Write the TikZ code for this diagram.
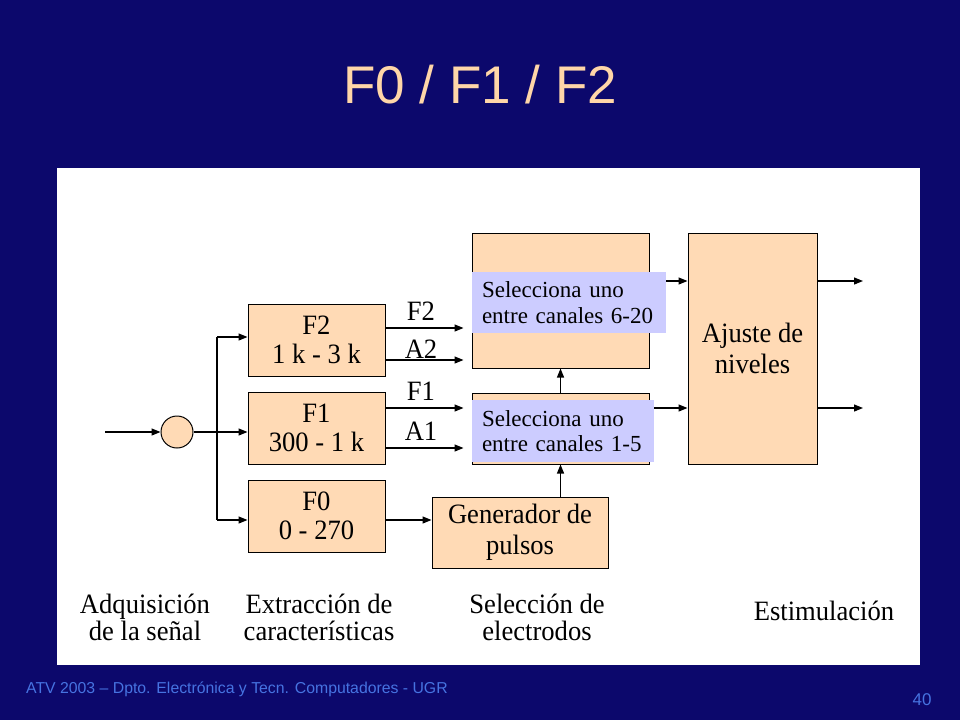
\documentclass[tikz,border=0pt]{standalone}
\usepackage{fontspec}
\setmainfont[FakeStretch=0.95]{Liberation Serif}
\newfontfamily\plainserif{Liberation Serif}
\newfontfamily\arialf{Liberation Sans}
\usetikzlibrary{arrows.meta,calc}
\definecolor{navy}{RGB}{12,8,108}
\definecolor{peach}{RGB}{255,218,181}
\definecolor{titlepeach}{RGB}{255,214,168}
\definecolor{lblue}{RGB}{204,204,255}
\definecolor{footblue}{RGB}{70,115,225}
\tikzset{
  blk/.style={draw=black, line width=1pt, fill=peach, inner sep=0pt, align=center,
    font=\fontsize{28}{29}\selectfont},
  selbox/.style={fill=lblue, inner xsep=10pt, inner ysep=0pt, align=left,
    font=\plainserif\fontsize{23}{25.5}\selectfont},
  arr/.style={line width=1.2pt, -{Triangle[length=9pt,width=7pt]}},
  lbl/.style={inner sep=0pt, align=center, font=\fontsize{28}{27}\selectfont},
}
\begin{document}
\begin{tikzpicture}[x=1pt,y=-1pt]
\useasboundingbox (0,0) rectangle (960,720);
\fill[navy] (0,0) rectangle (960,720);
\fill[white] (57,168) rectangle (920,665);

\node[anchor=base, inner sep=0pt, text=titlepeach, font=\arialf\fontsize{53}{60}\selectfont] (title) at (480,103) {F0 / F1 / F2};

% acquisition
\node[circle, draw=black, line width=1pt, fill=peach, minimum size=32pt, inner sep=0pt] (circ) at (177,432) {};
\coordinate (in) at (105,432);
\draw[arr] (in) -- (circ);

% feature extraction boxes
\node[blk, minimum width=137pt, minimum height=72pt] (f2) at (316.5,340) {F2\\1 k - 3 k};
\node[blk, minimum width=137pt, minimum height=72pt] (f1) at (316.5,428) {F1\\300 - 1 k};
\node[blk, minimum width=137pt, minimum height=72pt] (f0) at (316.5,516) {F0\\0 - 270};

\coordinate (j2) at (217,337);
\coordinate (j0) at (217,520);
\draw[line width=1.2pt] (j2) -- (j0);
\draw[arr] (circ) -- (circ -| f1.west);
\draw[arr] (j2) -- (j2 -| f2.west);
\draw[arr] (j0) -- (j0 -| f0.west);

% electrode selection
\node[blk, minimum width=177pt, minimum height=135pt] (sel2) at (560.5,300.5) {};
\node[blk, minimum width=177pt, minimum height=71pt] (sel1) at (560.5,428.5) {};
\node[selbox, text width=174pt, minimum height=61pt] (b1) at (569,302.5) {Selecciona uno\\entre canales 6-20};
\node[selbox, text width=162pt, minimum height=62pt] (b2) at (563,431) {Selecciona uno\\entre canales 1-5};
\node[blk, minimum width=176pt, minimum height=71pt, font=\fontsize{28}{31}\selectfont] (gen) at (520,532.5) {Generador de\\pulsos};

% stimulation
\node[blk, minimum width=129pt, minimum height=231pt, font=\fontsize{28}{31}\selectfont] (aj) at (752.5,348.5) {Ajuste de\\niveles};

% extraction -> selection
\draw[arr, shorten >=8pt] ([yshift=12pt]f2.east) -- ([yshift=12pt]f2.east -| sel2.west);
\draw[arr, shorten >=8pt] ([yshift=-20pt]f2.east) -- ([yshift=-20pt]f2.east -| sel2.west);
\draw[arr, shorten >=8pt] ([yshift=20pt]f1.east) -- ([yshift=20pt]f1.east -| sel1.west);
\draw[arr, shorten >=8pt] ([yshift=-20pt]f1.east) -- ([yshift=-20pt]f1.east -| sel1.west);
\draw[arr] ([yshift=-4pt]f0.east) -- ([yshift=-4pt]f0.east -| gen.west);

\node[lbl, anchor=base] (lf2) at (421,320) {F2};
\node[lbl, anchor=base] (la2) at (421,358) {A2};
\node[lbl, anchor=base] (lf1) at (421,400) {F1};
\node[lbl, anchor=base] (la1) at (421,440) {A1};

\draw[arr] (sel1 |- gen.north) -- (sel1.south);
\draw[arr] (sel1.north) -- (sel2.south);

\draw[arr] ([yshift=21.5pt]b1.east) -- ([yshift=21.5pt]b1.east -| aj.west);
\draw[arr] ([yshift=23pt]b2.east) -- ([yshift=23pt]b2.east -| aj.west);

\coordinate (out1) at (863,281);
\coordinate (out2) at (863,408);
\draw[arr] (aj.east |- out1) -- (out1);
\draw[arr] (aj.east |- out2) -- (out2);

% stage labels
\node[lbl] (st1) at (145,617) {Adquisición\\de la señal};
\node[lbl] (st2) at (319,617) {Extracción de\\características};
\node[lbl] (st3) at (537,617) {Selección de\\electrodos};
\node[lbl, anchor=base] (st4) at (824,620) {Estimulación};

% footer
\node[anchor=base west, inner sep=0pt, text=footblue, font=\arialf\fontsize{15.8}{18}\selectfont] (foot) at (26,693) {ATV 2003 – Dpto. Electrónica y Tecn. Computadores - UGR};
\node[anchor=base, inner sep=0pt, text=footblue, font=\arialf\fontsize{17}{20}\selectfont] (pg) at (922,705) {40};
\end{tikzpicture}
\end{document}
